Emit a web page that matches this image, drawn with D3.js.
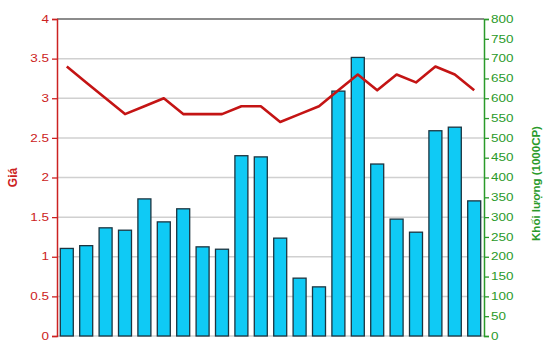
<!DOCTYPE html>
<html>
<head>
<meta charset="utf-8">
<script src="https://cdn.jsdelivr.net/npm/d3@7"></script>
<style>
  body { margin: 0; background: #fff; }
  text { font-family: Arial, "Liberation Sans", sans-serif; }
</style>
</head>
<body>
<div id="chart"></div>
<script>
// sessions, volume (1000CP) and price
let sessions = d3.range(1, 23);
let volume = [221, 228, 273, 267, 346, 288, 321, 225, 219, 455, 452, 247,
              146, 124, 618, 703, 434, 295, 262, 518, 527, 341];
let price = [3.4, 3.2, 3.0, 2.8, 2.9, 3.0, 2.8, 2.8, 2.8, 2.9, 2.9, 2.7,
             2.8, 2.9, 3.1, 3.3, 3.1, 3.3, 3.2, 3.4, 3.3, 3.1];
let priceTicks = [0, 0.5, 1, 1.5, 2, 2.5, 3, 3.5, 4];
let volumeTicks = d3.range(0, 801, 50);

let width = 550, height = 364;
let margin = {top: 19, right: 66, bottom: 28, left: 57};
let redColor = "#cc2222";
let greenColor = "#2a9a2a";
let stretch = 1.35; // tick labels look stretched sideways

let svg = d3.select("#chart")
    .append("svg")
    .attr("width", width)
    .attr("height", height);

let xScale = d3.scaleBand()
    .domain(sessions)
    .range([margin.left, width - margin.right])
    .paddingInner(0.33)
    .paddingOuter(0.17);

let yPrice = d3.scaleLinear()
    .domain([0, 4])
    .range([height - margin.bottom, margin.top]);

let yVolume = d3.scaleLinear()
    .domain([0, 800])
    .range([height - margin.bottom, margin.top]);

// gridlines
svg.append("g")
    .selectAll("line")
    .data(priceTicks.slice(1, -1))
    .enter()
    .append("line")
    .attr("x1", margin.left)
    .attr("x2", width - margin.right)
    .attr("y1", d => yPrice(d))
    .attr("y2", d => yPrice(d))
    .attr("stroke", "#d0d0d0")
    .attr("stroke-width", 1.5);

// top border
svg.append("line")
    .attr("x1", margin.left)
    .attr("x2", width - margin.right)
    .attr("y1", margin.top)
    .attr("y2", margin.top)
    .attr("stroke", "#666")
    .attr("stroke-width", 1.5);

// bottom line
svg.append("line")
    .attr("x1", margin.left)
    .attr("x2", width - margin.right)
    .attr("y1", yPrice(0))
    .attr("y2", yPrice(0))
    .attr("stroke", "#bbb")
    .attr("stroke-width", 1);

// bars
svg.append("g")
    .selectAll("rect")
    .data(volume)
    .enter()
    .append("rect")
    .attr("x", (d, i) => xScale(sessions[i]))
    .attr("y", d => yVolume(d))
    .attr("width", xScale.bandwidth())
    .attr("height", d => yVolume(0) - yVolume(d))
    .attr("fill", "#0fcaf5")
    .attr("stroke", "#1c3440")
    .attr("stroke-width", 1.3);

// price line
let line = d3.line()
    .x((d, i) => xScale(sessions[i]) + xScale.bandwidth() / 2)
    .y(d => yPrice(d));

svg.append("path")
    .datum(price)
    .attr("d", line)
    .attr("fill", "none")
    .attr("stroke", "#c41414")
    .attr("stroke-width", 2.6)
    .attr("stroke-linejoin", "round");

// left axis
let leftAxis = d3.axisLeft(yPrice)
    .tickValues(priceTicks)
    .tickSize(5)
    .tickFormat(d => d);

let gLeft = svg.append("g")
    .attr("transform", `translate(${margin.left}, 0)`)
    .call(leftAxis);
gLeft.select(".domain").attr("stroke", redColor).attr("stroke-width", 1.5);
gLeft.selectAll(".tick line").attr("stroke", redColor).attr("stroke-width", 1.3);
gLeft.selectAll(".tick text")
    .attr("fill", redColor)
    .attr("font-size", 10)
    .attr("x", -8 / stretch)
    .attr("transform", `scale(${stretch}, 1)`);

svg.append("text")
    .attr("transform", `translate(17, ${(margin.top + height - margin.bottom) / 2}) rotate(-90)`)
    .attr("text-anchor", "middle")
    .attr("fill", redColor)
    .attr("font-size", 12)
    .attr("font-weight", "bold")
    .text("Giá");

// right axis
let rightAxis = d3.axisRight(yVolume)
    .tickValues(volumeTicks)
    .tickSize(5)
    .tickFormat(d => d);

let gRight = svg.append("g")
    .attr("transform", `translate(${width - margin.right}, 0)`)
    .call(rightAxis);
gRight.select(".domain").attr("stroke", greenColor).attr("stroke-width", 1.5);
gRight.selectAll(".tick line").attr("stroke", greenColor).attr("stroke-width", 1.3);
gRight.selectAll(".tick text")
    .attr("fill", greenColor)
    .attr("font-size", 10)
    .attr("x", 7 / stretch)
    .attr("transform", `scale(${stretch}, 1)`);

svg.append("text")
    .attr("transform", `translate(540, ${(margin.top + height - margin.bottom) / 2 + 6}) rotate(-90)`)
    .attr("text-anchor", "middle")
    .attr("fill", greenColor)
    .attr("font-size", 11.5)
    .attr("font-weight", "bold")
    .text("Khối lượng (1000CP)");
</script>
</body>
</html>
